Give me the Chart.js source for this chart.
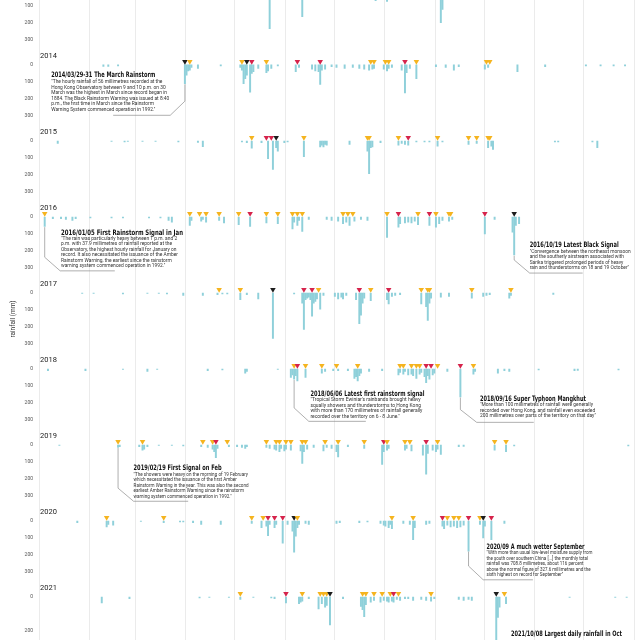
<!DOCTYPE html>
<html>
<head>
<meta charset="utf-8">
<title>Hong Kong daily rainfall and rainstorm warnings</title>
<script src="https://cdn.jsdelivr.net/npm/chart.js@4.4.1/dist/chart.umd.min.js"></script>
<style>
  html, body { margin: 0; padding: 0; background: #fff; }
  canvas { display: block; }
</style>
</head>
<body>
<canvas id="rainChart" width="640" height="640"></canvas>
<script>
// one panel per year, day of year on x, daily rainfall (mm) downwards
const years = [2013, 2014, 2015, 2016, 2017, 2018, 2019, 2020, 2021];
const monthStarts = [0.5, 31.5, 59.5, 90.5, 120.5, 151.5, 181.5, 212.5, 243.5, 273.5, 304.5, 334.5, 365.5];
const yTicks = [0, 100, 200, 300];

// [day of year, rainfall mm]
const rain2013 = [[142, 233], [162, 163], [207, 69], [214, 73], [247, 198], [248, 120]];
const rain2014 = [[40, 8], [43, 8], [49, 5], [90, 110], [91, 60], [92, 35], [93, 30], [94, 15], [98, 20],
  [112, 5], [124, 15], [125, 30], [126, 110], [127, 80], [128, 60], [130, 160], [131, 50], [132, 40], [135, 20],
  [140, 45], [141, 35], [143, 20], [147, 5], [158, 40], [160, 15], [168, 25], [170, 35], [172, 40], [173, 115],
  [174, 30], [176, 25], [180, 10], [183, 15], [188, 20], [193, 15], [197, 20], [200, 25], [203, 30], [205, 25],
  [206, 20], [212, 25], [214, 35], [215, 20], [217, 15], [223, 30], [225, 165], [226, 45], [228, 20], [232, 80],
  [244, 10], [250, 15], [255, 30], [258, 10], [274, 25], [276, 15], [294, 40], [311, 10], [336, 5], [345, 5],
  [353, 5], [360, 5]];
const rain2015 = [[12, 15], [45, 3], [53, 5], [55, 3], [64, 3], [72, 3], [86, 5], [98, 8], [101, 33],
  [125, 5], [128, 10], [131, 42], [137, 10], [141, 104], [144, 168], [146, 40], [147, 60], [151, 10], [153, 5],
  [163, 93], [173, 35], [174, 25], [175, 35], [176, 20], [177, 25], [191, 20], [202, 60], [203, 193], [204, 40],
  [205, 35], [210, 10], [221, 25], [223, 15], [225, 20], [227, 25], [232, 5], [237, 5], [240, 5], [245, 30],
  [248, 5], [264, 20], [269, 15], [276, 40], [278, 30], [279, 50], [317, 5], [319, 5], [340, 5], [343, 40]];
const rain2016 = [[4, 55], [9, 10], [14, 10], [17, 15], [21, 20], [23, 10], [32, 5], [45, 5], [52, 5],
  [68, 5], [75, 5], [80, 20], [82, 30], [93, 50], [94, 20], [100, 25], [101, 15], [103, 30], [111, 20], [114, 35],
  [123, 45], [130, 55], [140, 35], [147, 40], [156, 70], [157, 30], [159, 50], [160, 20], [162, 85], [166, 15],
  [177, 15], [180, 20], [184, 25], [187, 40], [189, 30], [191, 50], [194, 25], [198, 15], [202, 20],
  [214, 121], [221, 60], [222, 40], [225, 35], [227, 30], [229, 35], [231, 25], [233, 45], [240, 50], [244, 60],
  [246, 40], [248, 20], [252, 25], [254, 15], [274, 100], [280, 15], [291, 90], [292, 223], [293, 50], [295, 40]];
const rain2017 = [[27, 3], [34, 3], [52, 5], [67, 3], [74, 3], [79, 5], [89, 15], [101, 15], [110, 10], [113, 5],
  [116, 5], [124, 40], [128, 10], [135, 35], [144, 267], [157, 5], [162, 60], [163, 214], [164, 40], [165, 30],
  [166, 25], [167, 40], [168, 136], [169, 60], [170, 50], [171, 35], [173, 95], [175, 15], [182, 20], [184, 35],
  [186, 25], [187, 35], [189, 15], [195, 40], [197, 181], [198, 130], [199, 60], [200, 30], [204, 45], [214, 40],
  [215, 65], [217, 20], [219, 15], [222, 10], [235, 65], [238, 80], [239, 162], [240, 60], [241, 30], [247, 25],
  [252, 20], [266, 30], [273, 20], [275, 15], [277, 10], [289, 30], [290, 15], [316, 8]];
const rain2018 = [[6, 10], [29, 10], [52, 3], [67, 15], [73, 3], [104, 10], [113, 5], [127, 25], [128, 15], [147, 3],
  [155, 50], [156, 35], [157, 60], [158, 40], [159, 70], [164, 50], [174, 25], [176, 15], [181, 10], [184, 10],
  [190, 10], [194, 55], [195, 45], [196, 70], [197, 40], [198, 25], [203, 15], [211, 10], [221, 35], [222, 20],
  [224, 30], [225, 15], [227, 35], [229, 30], [230, 40], [232, 55], [234, 30], [235, 20], [237, 45], [238, 80],
  [239, 40], [240, 60], [242, 35], [243, 25], [251, 15], [259, 165], [267, 30], [268, 15], [282, 25], [286, 10],
  [289, 15], [307, 5], [329, 10], [331, 8], [356, 5]];
const rain2019 = [[13, 3], [49, 15], [50, 10], [62, 10], [64, 30], [65, 25], [67, 10], [74, 3], [82, 3], [89, 5],
  [100, 10], [104, 15], [107, 25], [108, 40], [109, 75], [110, 20], [117, 10], [122, 10], [125, 15], [127, 20],
  [128, 10], [140, 15], [142, 20], [145, 25], [146, 30], [148, 40], [149, 20], [151, 35], [152, 25], [155, 30],
  [161, 35], [162, 108], [163, 40], [165, 25], [169, 15], [175, 35], [177, 15], [180, 20], [183, 40], [184, 70],
  [190, 10], [200, 20], [211, 115], [212, 40], [214, 30], [215, 20], [225, 30], [226, 20], [229, 35], [236, 60],
  [238, 171], [239, 50], [242, 30], [244, 40], [245, 25], [247, 55], [258, 10], [261, 8], [280, 30], [287, 40],
  [292, 5], [362, 5]];
const rain2020 = [[24, 10], [42, 35], [43, 20], [46, 25], [63, 3], [77, 10], [87, 5], [89, 5], [95, 10], [100, 20],
  [112, 20], [131, 15], [137, 40], [140, 30], [141, 87], [142, 20], [145, 40], [146, 20], [150, 130], [153, 20],
  [156, 60], [157, 184], [158, 90], [159, 40], [160, 20], [164, 15], [166, 20], [183, 15], [185, 10], [197, 10],
  [202, 5], [210, 15], [212, 25], [213, 30], [215, 40], [216, 20], [217, 45], [224, 15], [228, 20], [230, 110],
  [231, 40], [238, 20], [240, 15], [248, 30], [249, 45], [251, 25], [253, 35], [255, 30], [257, 40], [259, 35],
  [261, 25], [264, 178], [271, 20], [273, 100], [274, 30], [278, 110], [286, 15]];
const rain2021 = [[39, 35], [56, 10], [99, 5], [105, 3], [117, 3], [124, 15], [132, 3], [143, 5], [145, 10],
  [152, 35], [160, 40], [161, 30], [162, 25], [166, 10], [172, 70], [174, 40], [176, 60], [177, 50], [179, 165],
  [187, 10], [198, 55], [199, 75], [200, 116], [201, 45], [204, 30], [206, 20], [210, 30], [212, 20], [214, 25],
  [215, 30], [217, 25], [218, 30], [220, 15], [222, 20], [225, 10], [227, 10], [230, 20], [235, 15], [238, 20],
  [241, 25], [243, 10], [258, 15], [261, 20], [264, 15], [266, 20], [281, 300], [282, 120], [283, 60], [287, 40],
  [326, 3], [354, 3], [361, 3]];

// rainstorm warnings: [day of year, A = amber, R = red, B = black]
const warn2013 = [];
const warn2014 = [[90, "B"], [93, "A"], [125, "A"], [128, "B"], [131, "R"], [140, "A"], [159, "R"], [173, "R"],
  [204, "A"], [206, "A"], [213, "A"], [215, "A"], [225, "R"], [232, "A"], [275, "A"], [277, "A"]];
const warn2015 = [[131, "A"], [140, "R"], [143, "R"], [146, "B"], [163, "A"], [202, "A"], [203, "A"], [221, "A"],
  [227, "R"], [245, "A"], [264, "A"], [269, "A"], [276, "A"], [277, "A"]];
const warn2016 = [[4, "A"], [93, "A"], [99, "A"], [103, "A"], [111, "A"], [123, "A"], [130, "R"], [140, "A"],
  [147, "A"], [156, "A"], [159, "A"], [162, "A"], [187, "A"], [190, "A"], [193, "A"], [214, "A"], [221, "R"],
  [233, "A"], [240, "R"], [244, "A"], [252, "A"], [253, "A"], [274, "R"], [292, "B"]];
const warn2017 = [[111, "A"], [124, "A"], [144, "B"], [163, "R"], [168, "R"], [172, "A"], [197, "R"], [204, "A"],
  [215, "R"], [235, "A"], [239, "A"], [240, "A"], [266, "A"], [290, "A"]];
const warn2018 = [[157, "A"], [159, "R"], [164, "A"], [174, "A"], [183, "A"], [196, "A"], [222, "A"], [224, "A"],
  [229, "A"], [232, "A"], [234, "A"], [238, "R"], [241, "R"], [245, "A"], [259, "R"], [267, "A"]];
const warn2019 = [[49, "A"], [64, "A"], [101, "A"], [107, "A"], [109, "R"], [116, "A"], [140, "A"], [146, "A"],
  [148, "A"], [152, "A"], [155, "A"], [162, "A"], [164, "A"], [176, "A"], [184, "A"], [200, "A"], [212, "R"],
  [214, "A"], [225, "A"], [228, "A"], [238, "R"], [245, "A"], [280, "A"], [287, "A"]];
const warn2020 = [[42, "A"], [77, "A"], [131, "A"], [138, "A"], [141, "R"], [145, "R"], [150, "R"], [157, "B"],
  [159, "A"], [217, "A"], [230, "A"], [248, "R"], [251, "A"], [255, "A"], [258, "A"], [264, "R"], [271, "A"],
  [273, "B"], [278, "R"]];
const warn2021 = [[124, "A"], [152, "R"], [162, "A"], [173, "A"], [175, "A"], [177, "A"], [179, "B"], [199, "A"],
  [201, "A"], [206, "A"], [211, "A"], [216, "A"], [218, "R"], [221, "A"], [241, "A"], [281, "B"], [286, "A"]];

const rainSeries = [rain2013, rain2014, rain2015, rain2016, rain2017, rain2018, rain2019, rain2020, rain2021];
const warnSeries = [warn2013, warn2014, warn2015, warn2016, warn2017, warn2018, warn2019, warn2020, warn2021];
const warnColors = { A: "#f5b41f", R: "#d6234b", B: "#1c1c1c" };

// callouts, placed in (day, mm) of their year panel
const notes = [
  {
    year: 2014, title: "2014/03/29-31 The March Rainstorm", titleAt: [8, 60], titleWidth: 104,
    body: ["\"The hourly rainfall of 56 millimetres recorded at the",
      "Hong Kong Observatory between 9 and 10 p.m. on 30",
      "March was the highest in March since record began in",
      "1884. The Black Rainstorm Warning was issued at 8:40",
      "p.m., the first time in March since the Rainstorm",
      "Warning System commenced operation in 1992.\""],
    bodyAt: [8, 102], bodyWidth: 118,
    leader: [[90, 114], [90, 213], [81, 296], [46, 296]]
  },
  {
    year: 2016, title: "2016/01/05 First Rainstorm Signal in Jan", titleAt: [14, 92], titleWidth: 122,
    body: ["\"The rain was particularly heavy between 1 p.m. and 2",
      "p.m. with 37.9 millimetres of rainfall reported at the",
      "Observatory, the highest hourly rainfall for January on",
      "record. It also necessitated the issuance of the Amber",
      "Rainstorm Warning, the earliest since the rainstorm",
      "warning system commenced operation in 1992.\""],
    bodyAt: [14, 127], bodyWidth: 117,
    leader: [[4, 60], [4, 237], [13.5, 317], [47, 317]]
  },
  {
    year: 2016, title: "2016/10/19 Latest Black Signal", titleAt: [301.5, 163], titleWidth: 89,
    body: ["\"Convergence between the northeast monsoon",
      "and the southerly airstream associated with",
      "Sarika triggered prolonged periods of heavy",
      "rain and thunderstorms on 18 and 19 October\""],
    bodyAt: [301.5, 203], bodyWidth: 101,
    leader: [[292, 228], [292, 253], [301.5, 330], [334, 330]]
  },
  {
    year: 2018, title: "2018/06/06 Latest first rainstorm signal", titleAt: [167, 145], titleWidth: 114,
    body: ["\"Tropical Storm Ewiniar's rainbands brought heavy",
      "squally showers and thunderstorms to Hong Kong",
      "with more than 170 millimetres of rainfall generally",
      "recorded over the territory on 6 - 8 June.\""],
    bodyAt: [167, 182], bodyWidth: 112,
    leader: [[157, 65], [157, 229], [166, 308], [201, 308]]
  },
  {
    year: 2018, title: "2018/09/16 Super Typhoon Mangkhut", titleAt: [271, 176], titleWidth: 106,
    body: ["\"More than 100 millimetres of rainfall were generally",
      "recorded over Hong Kong, and rainfall even exceeded",
      "200 millimetres over parts of the territory on that day\""],
    bodyAt: [271, 212], bodyWidth: 116,
    leader: [[259, 168], [259, 239], [269, 314], [304, 314]]
  },
  {
    year: 2019, title: "2019/02/19 First Signal on Feb", titleAt: [58.5, 138], titleWidth: 88,
    body: ["\"The showers were heavy on the morning of 19 February",
      "which necessitated the issuance of the first Amber",
      "Rainstorm Warning in the year. This was also the second",
      "earliest Amber Rainstorm Warning since the rainstorm",
      "warning system commenced operation in 1992.\""],
    bodyAt: [58.5, 175], bodyWidth: 115,
    leader: [[49, 18], [49, 254], [58.5, 331], [92, 331]]
  },
  {
    year: 2020, title: "2020/09 A much wetter September", titleAt: [275, 155], titleWidth: 98,
    body: ["\"With more than usual low-level moisture supply from",
      "the south over southern China [...] the monthly total",
      "rainfall was 708.8 millimetres, about 116 percent",
      "above the normal figure of 327.6 millimetres and the",
      "sixth highest on record for September\""],
    bodyAt: [275, 190], bodyWidth: 106,
    leader: [[264, 180], [264, 265], [273, 346], [303.5, 346]]
  },
  {
    year: 2021, title: "2021/10/08 Largest daily rainfall in Oct", titleAt: [290, 216], titleWidth: 111,
    body: [], bodyAt: [290, 250], bodyWidth: 110, leader: []
  }
];

// the first and last panels are cut by the edge of the page
function panelRange(i) {
  if (i === 0) return { min: 65, max: 387 };
  if (i === years.length - 1) return { min: -60, max: 253 };
  return { min: -60, max: 387 };
}

function fitText(ctx, lines, x, y, step, width) {
  const widest = Math.max(...lines.map((l) => ctx.measureText(l).width));
  const k = width / widest;
  ctx.save();
  ctx.translate(x, y);
  ctx.scale(k, 1);
  lines.forEach((l, i) => ctx.fillText(l, 0, i * step));
  ctx.restore();
}

function drawNote(chart, note) {
  const ctx = chart.ctx;
  const xs = chart.scales.x;
  const ys = chart.scales["y" + note.year];
  const px = (d) => xs.getPixelForValue(d);
  const py = (v) => ys.getPixelForValue(v);

  if (note.leader.length) {
    ctx.beginPath();
    note.leader.forEach(([d, v], i) => {
      if (i === 0) ctx.moveTo(px(d), py(v));
      else ctx.lineTo(px(d), py(v));
    });
    ctx.strokeStyle = "#8c8c8c";
    ctx.lineWidth = 0.7;
    ctx.stroke();
  }

  ctx.textAlign = "left";
  ctx.textBaseline = "middle";
  ctx.fillStyle = "#111";
  ctx.font = "bold 7.5px 'Liberation Sans Narrow', 'DejaVu Sans Condensed', Roboto, sans-serif";
  fitText(ctx, [note.title], px(note.titleAt[0]), py(note.titleAt[1]), 0, note.titleWidth);

  if (note.body.length) {
    ctx.fillStyle = "#333";
    ctx.font = "4.8px 'Liberation Sans Narrow', Roboto, sans-serif";
    fitText(ctx, note.body, px(note.bodyAt[0]), py(note.bodyAt[1]), 5.5, note.bodyWidth);
  }
}

const pageText = {
  id: "pageText",
  afterDraw(chart) {
    const { ctx, chartArea } = chart;
    ctx.save();
    ctx.textBaseline = "middle";
    ctx.textAlign = "left";
    ctx.fillStyle = "#222";
    ctx.font = "7.5px Roboto, sans-serif";
    years.forEach((year) => {
      // heading sits at the top of the full panel, so it falls off the page for 2013
      const ys = chart.scales["y" + year];
      ctx.fillText(String(year), chartArea.left + 1, ys.getPixelForValue(-54));
    });

    ctx.save();
    ctx.translate(13, 319);
    ctx.rotate(-Math.PI / 2);
    ctx.textAlign = "center";
    ctx.fillStyle = "#333";
    ctx.font = "6.5px Roboto, sans-serif";
    ctx.fillText("rainfall (mm)", 0, 0);
    ctx.restore();

    notes.forEach((note) => drawNote(chart, note));
    ctx.restore();
  },
};

const scales = {
  x: {
    type: "linear",
    position: "top",
    offset: false,
    min: 0.5,
    max: 365.5,
    ticks: { display: false },
    grid: { color: "#ebebeb", lineWidth: 1, drawTicks: false, offset: false },
    border: { display: false },
    afterBuildTicks: (s) => {
      s.ticks = monthStarts.map((v) => ({ value: v }));
    },
    afterFit: (s) => {
      s.height = 0;
      s.paddingLeft = 0;
      s.paddingRight = 0;
    },
  },
};

const datasets = [];

years.forEach((year, i) => {
  const range = panelRange(i);
  scales["y" + year] = {
    type: "linear",
    position: "left",
    stack: "panels",
    stackWeight: range.max - range.min,
    weight: years.length - i,
    reverse: true,
    min: range.min,
    max: range.max,
    grid: { display: false, drawTicks: false },
    border: { display: false },
    ticks: { color: "#555", padding: 6, font: { size: 5 } },
    afterBuildTicks: (s) => {
      s.ticks = yTicks.filter((v) => v >= s.min && v <= s.max).map((v) => ({ value: v }));
    },
    afterFit: (s) => {
      s.width = 39;
      s.paddingTop = 0;
      s.paddingBottom = 0;
    },
  };

  datasets.push({
    type: "bar",
    label: "rain " + year,
    yAxisID: "y" + year,
    data: rainSeries[i].map(([d, mm]) => ({ x: d, y: mm })),
    backgroundColor: "#8fd0da",
    barThickness: 1.3,
    grouped: false,
    order: 2,
  });

  datasets.push({
    type: "scatter",
    label: "warnings " + year,
    yAxisID: "y" + year,
    data: warnSeries[i].map(([d, level]) => ({ x: d, y: -20, level: level })),
    pointStyle: "triangle",
    rotation: 180,
    radius: 3.2,
    borderWidth: 0,
    backgroundColor: (ctx) => (ctx.raw ? warnColors[ctx.raw.level] : "#f5b41f"),
    order: 1,
  });
});

Chart.defaults.font.family = "Roboto, sans-serif";

new Chart(document.getElementById("rainChart"), {
  type: "bar",
  data: { datasets: datasets },
  options: {
    responsive: false,
    animation: false,
    layout: { autoPadding: false, padding: { left: 0, right: 6, top: 0, bottom: 0 } },
    plugins: {
      legend: { display: false },
      tooltip: { enabled: false },
    },
    scales: scales,
  },
  plugins: [pageText],
});
</script>
</body>
</html>
